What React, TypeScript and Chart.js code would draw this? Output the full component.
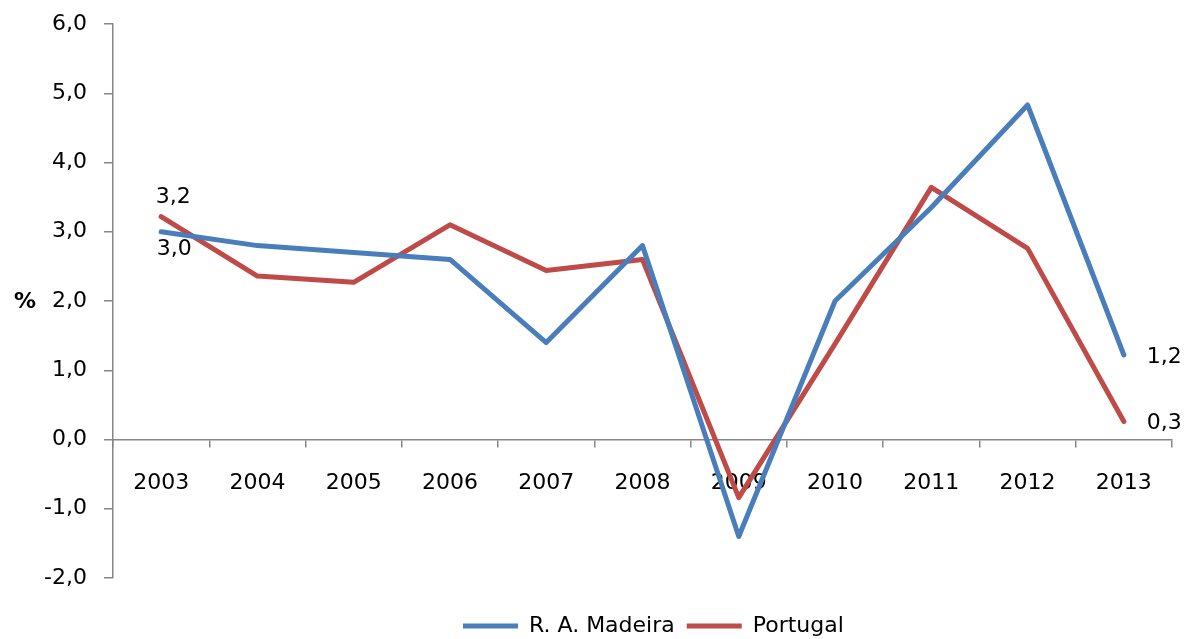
import React, { useEffect, useRef } from "react";
import { Chart, registerables } from "chart.js";

Chart.register(...registerables);

const years = ["2003", "2004", "2005", "2006", "2007", "2008", "2009", "2010", "2011", "2012", "2013"];
const madeira = [3.0, 2.8, 2.7, 2.6, 1.4, 2.8, -1.4, 2.0, 3.35, 4.83, 1.22];
const portugal = [3.22, 2.36, 2.27, 3.1, 2.44, 2.6, -0.84, 1.38, 3.64, 2.76, 0.26];
const seriesNames = ["R. A. Madeira", "Portugal"];
const yMin = -2;
const yMax = 6;
const yStep = 1;
const yTitle = "%";
// which points carry a value label: [datasetIndex, pointIndex, placement]
const valueLabels: [number, number, string][] = [
  [1, 0, "above"],
  [0, 0, "below"],
  [0, 10, "right"],
  [1, 10, "right"],
];

const FONT = "'DejaVu Sans', Verdana, sans-serif";
const AXIS = "#868686";
const fmt = (v: number) => v.toFixed(1).replace(".", ",");

const overlayPlugin = {
  id: "overlay",
  afterLayout(chart: any) {
    const L = chart.legend;
    if (!L || !L.lineWidths) return;
    const p = 12;
    const start = (L.left + p + L.right - L.lineWidths[0]) / 2;
    const dx = 463 - start;
    L.left += dx;
    L.right += dx;
    const h = L.height;
    L.top = 603;
    L.bottom = L.top + h;
  },
  afterDatasetsDraw(chart: any) {
    const ctx = chart.ctx;
    ctx.save();
    ctx.fillStyle = "#000";
    ctx.font = `22px ${FONT}`;
    for (const [ds, i, place] of valueLabels) {
      const el = chart.getDatasetMeta(ds).data[i];
      const v = chart.data.datasets[ds].data[i] as number;
      const t = fmt(v);
      if (place === "above") {
        ctx.textAlign = "center";
        ctx.textBaseline = "middle";
        ctx.fillText(t, el.x + 12, el.y - 19);
      } else if (place === "below") {
        ctx.textAlign = "center";
        ctx.textBaseline = "middle";
        ctx.fillText(t, el.x + 13, el.y + 18);
      } else {
        ctx.textAlign = "left";
        ctx.textBaseline = "middle";
        ctx.fillText(t, el.x + 23, el.y + 2);
      }
    }
    // axis title, horizontal, centred on the y axis
    const ys = chart.scales.y;
    ctx.font = `bold 22px ${FONT}`;
    ctx.textAlign = "center";
    ctx.textBaseline = "middle";
    ctx.fillText(yTitle, 25, (ys.top + ys.bottom) / 2 + 1);
    ctx.restore();
  },
};

export default function App() {
  const ref = useRef<HTMLCanvasElement>(null);
  useEffect(() => {
    if (!ref.current) return;
    const chart = new Chart(ref.current, {
      type: "line",
      data: {
        labels: years,
        datasets: [
          {
            label: seriesNames[0],
            data: madeira,
            borderColor: "#4A7EBB",
            backgroundColor: "#4A7EBB",
            borderWidth: 5,
            pointRadius: 0,
            tension: 0,
            borderJoinStyle: "round",
            borderCapStyle: "round",
          },
          {
            label: seriesNames[1],
            data: portugal,
            borderColor: "#BE4B48",
            backgroundColor: "#BE4B48",
            borderWidth: 5,
            pointRadius: 0,
            tension: 0,
            borderJoinStyle: "round",
            borderCapStyle: "round",
          },
        ],
      },
      options: {
        animation: false,
        responsive: false,
        maintainAspectRatio: false,
        layout: { padding: { left: 0, right: 17, top: 24, bottom: 17 } },
        plugins: {
          tooltip: { enabled: false },
          legend: {
            position: "bottom",
            align: "center",
            labels: {
              usePointStyle: true,
              pointStyle: "line",
              pointStyleWidth: 55,
              padding: 12,
              color: "#000",
              font: { family: FONT, size: 22 },
            },
          },
        },
        scales: {
          x: {
            type: "category",
            position: { y: 0 } as any,
            offset: true,
            grid: {
              offset: true,
              drawOnChartArea: false,
              drawTicks: true,
              tickLength: 7,
              color: AXIS,
              lineWidth: 1.5,
            },
            border: { color: AXIS, width: 1.5 },
            ticks: {
              color: "#000",
              padding: 24,
              maxRotation: 0,
              autoSkip: false,
              font: { family: FONT, size: 22 },
            },
          },
          y: {
            min: yMin,
            max: yMax,
            afterFit: (s: any) => {
              s.width = 113;
              s.paddingTop = 6;
              s.paddingBottom = 6;
            },
            grid: {
              drawOnChartArea: false,
              drawTicks: true,
              tickLength: 9,
              color: AXIS,
              lineWidth: 1.5,
            },
            border: { color: AXIS, width: 1.5 },
            ticks: {
              stepSize: yStep,
              color: "#000",
              padding: 17,
              font: { family: FONT, size: 22 },
              callback: (v: any) => fmt(Number(v)),
            },
          },
        },
      },
      plugins: [overlayPlugin],
    });
    return () => chart.destroy();
  }, []);
  return (
    <div style={{ position: "fixed", left: 0, top: 0, width: 1189, height: 639, background: "#fff" }}>
      <canvas ref={ref} width={1189} height={639} />
    </div>
  );
}
